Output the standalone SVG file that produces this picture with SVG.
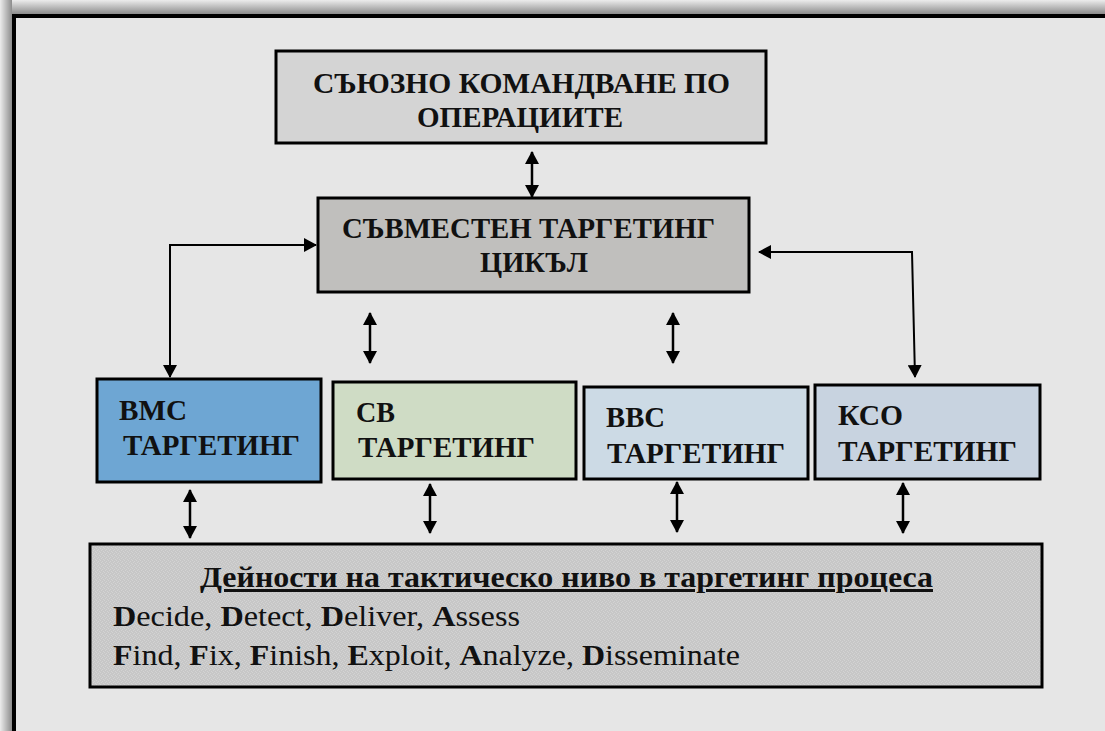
<svg xmlns="http://www.w3.org/2000/svg" width="1105" height="731" viewBox="0 0 1105 731">
  <style>
    .box { stroke: #000; stroke-width: 3; }
    .t { font-family: 'Liberation Serif', 'DejaVu Serif', serif; font-weight: bold; font-size: 30px; fill: #111; }
    .b { font-family: 'Liberation Serif', 'DejaVu Serif', serif; font-size: 30px; fill: #111; }
    .bb { font-weight: bold; }
    .conn { fill: none; stroke: #000; stroke-width: 2; }
    .conn2 { fill: none; stroke: #000; stroke-width: 2.5; }
  </style>
  <defs>
    <marker id="ah" viewBox="0 0 13 14" refX="12" refY="7" markerWidth="13" markerHeight="14" markerUnits="userSpaceOnUse" orient="auto-start-reverse">
      <path d="M0,0 L13,7 L0,14 z" fill="#000"/>
    </marker>
    <linearGradient id="shTop" x1="0" y1="0" x2="0" y2="1">
      <stop offset="0" stop-color="#ececec"/>
      <stop offset="1" stop-color="#8c8c8c"/>
    </linearGradient>
    <linearGradient id="shLeft" x1="0" y1="0" x2="1" y2="0">
      <stop offset="0" stop-color="#ececec"/>
      <stop offset="1" stop-color="#8c8c8c"/>
    </linearGradient>
    <pattern id="dither" width="4" height="4" patternUnits="userSpaceOnUse">
      <rect width="4" height="4" fill="#c7c7c7"/>
      <rect x="0" y="0" width="1" height="1" fill="#d3d3d3"/>
      <rect x="2" y="1" width="1" height="1" fill="#d3d3d3"/>
      <rect x="1" y="2" width="1" height="1" fill="#d3d3d3"/>
      <rect x="3" y="3" width="1" height="1" fill="#d3d3d3"/>
    </pattern>
  </defs>

  <!-- page background and shadowed frame -->
  <rect x="0" y="0" width="1105" height="731" fill="#e6e6e6"/>
  <rect x="0" y="0" width="1105" height="14" fill="url(#shTop)"/>
  <rect x="0" y="0" width="12" height="731" fill="url(#shLeft)"/>
  <rect x="14" y="16" width="1200" height="800" fill="#e6e6e6" stroke="#000" stroke-width="4"/>

  <g id="connectors">
    <line class="conn2" x1="532" y1="152" x2="532" y2="197" marker-start="url(#ah)" marker-end="url(#ah)"/>
    <path class="conn" d="M316,245 H170 V377" marker-start="url(#ah)" marker-end="url(#ah)"/>
    <path class="conn" d="M759,252 H912 L915,377" marker-start="url(#ah)" marker-end="url(#ah)"/>
    <line class="conn2" x1="370" y1="313" x2="370" y2="363" marker-start="url(#ah)" marker-end="url(#ah)"/>
    <line class="conn2" x1="673" y1="313" x2="673" y2="363" marker-start="url(#ah)" marker-end="url(#ah)"/>
    <line class="conn2" x1="190" y1="490" x2="190" y2="538" marker-start="url(#ah)" marker-end="url(#ah)"/>
    <line class="conn2" x1="430" y1="484" x2="430" y2="533" marker-start="url(#ah)" marker-end="url(#ah)"/>
    <line class="conn2" x1="677" y1="482" x2="677" y2="532" marker-start="url(#ah)" marker-end="url(#ah)"/>
    <line class="conn2" x1="903" y1="483" x2="903" y2="533" marker-start="url(#ah)" marker-end="url(#ah)"/>
  </g>

  <g id="allied-command">
    <rect class="box" x="276" y="51" width="490" height="92" fill="#d4d4d4"/>
    <text class="t" x="313" y="93" textLength="417" lengthAdjust="spacingAndGlyphs">СЪЮЗНО КОМАНДВАНЕ ПО</text>
    <text class="t" x="417" y="127" textLength="206" lengthAdjust="spacingAndGlyphs">ОПЕРАЦИИТЕ</text>
  </g>

  <g id="joint-cycle">
    <rect class="box" x="318" y="198" width="431" height="94" fill="#c0bfbd"/>
    <text class="t" x="342" y="238" textLength="373" lengthAdjust="spacingAndGlyphs">СЪВМЕСТЕН ТАРГЕТИНГ</text>
    <text class="t" x="480" y="272" textLength="108" lengthAdjust="spacingAndGlyphs">ЦИКЪЛ</text>
  </g>

  <g id="navy">
    <rect class="box" x="97" y="379" width="224" height="103" fill="#6ea6d3"/>
    <text class="t" x="119" y="420" textLength="68" lengthAdjust="spacingAndGlyphs">ВМС</text>
    <text class="t" x="123" y="455" textLength="177" lengthAdjust="spacingAndGlyphs">ТАРГЕТИНГ</text>
  </g>

  <g id="army">
    <rect class="box" x="333" y="382" width="243" height="97" fill="#cfdcc5"/>
    <text class="t" x="356" y="422" textLength="39" lengthAdjust="spacingAndGlyphs">СВ</text>
    <text class="t" x="358" y="457" textLength="177" lengthAdjust="spacingAndGlyphs">ТАРГЕТИНГ</text>
  </g>

  <g id="airforce">
    <rect class="box" x="584" y="387" width="224" height="92" fill="#ccdae5"/>
    <text class="t" x="606" y="427" textLength="59" lengthAdjust="spacingAndGlyphs">ВВС</text>
    <text class="t" x="607" y="463" textLength="178" lengthAdjust="spacingAndGlyphs">ТАРГЕТИНГ</text>
  </g>

  <g id="sof">
    <rect class="box" x="815" y="385" width="225" height="94" fill="#c8d3e0"/>
    <text class="t" x="838" y="425" textLength="65" lengthAdjust="spacingAndGlyphs">КСО</text>
    <text class="t" x="838" y="461" textLength="179" lengthAdjust="spacingAndGlyphs">ТАРГЕТИНГ</text>
  </g>

  <g id="tactical">
    <rect class="box" x="90" y="544" width="952" height="143" fill="url(#dither)"/>
    <text class="b bb" x="200" y="587" textLength="733" lengthAdjust="spacingAndGlyphs" text-decoration="underline">Дейности на тактическо ниво в таргетинг процеса</text>
    <text class="b" x="113" y="626" textLength="407" lengthAdjust="spacingAndGlyphs"><tspan class="bb">D</tspan>ecide, <tspan class="bb">D</tspan>etect, <tspan class="bb">D</tspan>eliver, <tspan class="bb">A</tspan>ssess</text>
    <text class="b" x="113" y="665" textLength="627" lengthAdjust="spacingAndGlyphs"><tspan class="bb">F</tspan>ind, <tspan class="bb">F</tspan>ix, <tspan class="bb">F</tspan>inish, <tspan class="bb">E</tspan>xploit, <tspan class="bb">A</tspan>nalyze, <tspan class="bb">D</tspan>isseminate</text>
  </g>
</svg>
